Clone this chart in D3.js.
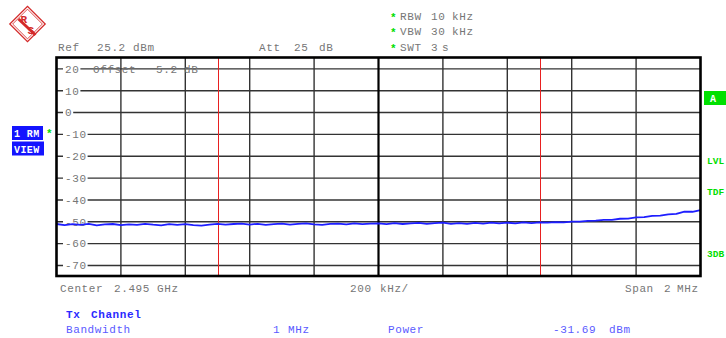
<!DOCTYPE html>
<html><head><meta charset="utf-8">
<script src="https://cdn.jsdelivr.net/npm/d3@7"></script>
<style>
html,body{margin:0;padding:0;background:#fff;}
svg{display:block;}
text{font-family:"Liberation Mono",monospace;white-space:pre;}
</style></head>
<body>
<script>
// ---- data ----
const freqOffsetsKHz = d3.range(-1000, 1001, 25); // 81 points across 2 MHz span
const traceDbm = [
  -51.0,-51.5,-51.1,-51.4,-50.9,-51.6,-51.2,-51.0,-51.5,-51.2,
  -51.4,-50.9,-51.3,-51.6,-51.1,-51.4,-51.1,-51.5,-51.7,-51.3,
  -50.9,-51.3,-51.0,-50.8,-51.3,-50.9,-51.4,-51.1,-50.8,-51.3,
  -50.9,-50.7,-51.2,-51.4,-50.9,-50.8,-51.2,-50.7,-51.1,-50.8,
  -50.7,-51.1,-50.6,-51.0,-50.7,-50.5,-50.9,-50.6,-50.4,
  -50.9,-50.6,-50.9,-50.5,-50.8,-50.4,-50.7,-50.4,-50.7,-50.3,-50.6,-50.3,
  -50.4,-50.1,-50.3,-49.9,-49.9,-49.6,-49.5,-49.1,-49.1,-48.6,
  -48.5,-48.0,-47.9,-47.3,-47.2,-46.6,-46.4,-45.3,-45.4,-44.6
];
const yTickValues = [20,10,0,-10,-20,-30,-40,-50,-60,-70];
const xGridKHz = [-800,-600,-400,-200,0,200,400,600,800];
const channelEdgesKHz = [-500, 500];
const refLevel = 25.2, rangeDb = 100;
const headerLeft = [["Ref",58],["25.2",97],["dBm",133],["Att",259],["25",294],["dB",319]];
const settings = [["RBW","10","kHz"],["VBW","30","kHz"],["SWT","3","s"]];
const offsetText = [["Offset",93],["5.2",156],["dB",184]];
const footer = [["Center",60],["2.495",114],["GHz",157],["200",350],["kHz/",380],["Span",625],["2",664],["MHz",677]];
const tableRow = [["Bandwidth",66],["1",273],["MHz",288],["Power",388],["-31.69",553],["dBm",609]];

// ---- layout ----
const W=726,H=338;
const svg=d3.select("body").append("svg").attr("width",W).attr("height",H);
const x=d3.scaleLinear().domain([-1000,1000]).range([56.5,700.5]);
const y=d3.scaleLinear().domain([refLevel-rangeDb,refLevel]).range([276,57.5]);
const gray="#767676", green="#00dd00", blue="#1414ff";
const txt=(s,xx,yy,fill,size,extra)=>{const t=svg.append("text").attr("x",xx).attr("y",yy).attr("fill",fill)
  .attr("font-size",size||11).attr("letter-spacing",0.6).text(s); if(extra) extra(t); return t;};

// R&S logo
const logo=svg.append("g").attr("transform","translate(27.5,24)");
logo.append("rect").attr("x",-12.5).attr("y",-12.5).attr("width",25).attr("height",25)
  .attr("transform","rotate(45)").attr("fill","none").attr("stroke","#d42a2a").attr("stroke-width",1.3);
logo.append("rect").attr("x",-10.5).attr("y",-10.5).attr("width",21).attr("height",21)
  .attr("transform","rotate(45)").attr("fill","none").attr("stroke","#d42a2a").attr("stroke-width",0.8);
logo.append("line").attr("x1",-9).attr("y1",-5).attr("x2",8).attr("y2",11)
  .attr("stroke","#d42a2a").attr("stroke-width",3);
logo.append("text").attr("x",-7).attr("y",-1).attr("fill","#d42a2a").attr("font-size",11).attr("font-weight","bold")
  .attr("font-family","Liberation Sans").text("R");
logo.append("text").attr("x",0).attr("y",10).attr("fill","#d42a2a").attr("font-size",11).attr("font-weight","bold")
  .attr("font-family","Liberation Sans").text("S");

// header
headerLeft.forEach(([s,xx])=>txt(s,xx,50.5,gray));
settings.forEach((r,i)=>{
  const yy=19.5+i*15.5;
  txt("*",390,yy+1,green,11,t=>t.attr("font-weight","bold"));
  txt(r[0],400,yy,gray); txt(r[1],431,yy,gray); txt(r[2],i===2?442:452,yy,gray);
});

// grid
const g=svg.append("g");
g.selectAll("line.h").data(yTickValues).join("line")
  .attr("x1",x(-1000)).attr("x2",x(1000)).attr("y1",d=>y(d)).attr("y2",d=>y(d))
  .attr("stroke","#333").attr("stroke-width",1.4);
g.selectAll("line.v").data(xGridKHz).join("line")
  .attr("y1",y(refLevel)).attr("y2",y(refLevel-rangeDb)).attr("x1",d=>x(d)).attr("x2",d=>x(d))
  .attr("stroke",d=>d===0?"#000":"#333").attr("stroke-width",d=>d===0?2.2:1.4);
g.selectAll("line.c").data(channelEdgesKHz).join("line")
  .attr("y1",y(refLevel)).attr("y2",y(refLevel-rangeDb)).attr("x1",d=>Math.round(x(d))+0.5).attr("x2",d=>Math.round(x(d))+0.5)
  .attr("stroke","#e82020").attr("stroke-width",1);

// y labels with white backing
yTickValues.forEach(v=>{
  const s=String(v);
  const w=s.length*7.2;
  svg.append("rect").attr("x",63).attr("y",y(v)-5).attr("width",w+3).attr("height",10).attr("fill","#fff");
  txt(s,65,y(v)+3.8,gray);
});

// offset text
offsetText.forEach(([s,xx])=>txt(s,xx,72.5,gray));

// trace
const line=d3.line().x((d,i)=>x(freqOffsetsKHz[i])).y(d=>y(d));
svg.append("path").datum(traceDbm).attr("d",line).attr("fill","none")
  .attr("stroke","#1e1eff").attr("stroke-width",1.8).attr("stroke-linejoin","round");

// frame
svg.append("rect").attr("x",x(-1000)).attr("y",y(refLevel)).attr("width",x(1000)-x(-1000))
  .attr("height",y(refLevel-rangeDb)-y(refLevel)).attr("fill","none").attr("stroke","#000").attr("stroke-width",2.6);

// left side indicators
svg.append("rect").attr("x",12).attr("y",126).attr("width",31).attr("height",14).attr("fill",blue);
txt("1 RM",14,137,"#fff",10,t=>t.attr("font-weight","bold").attr("letter-spacing",0.4));
svg.append("rect").attr("x",12).attr("y",141.5).attr("width",32).attr("height",14).attr("fill",blue);
txt("VIEW",14,152.5,"#fff",10,t=>t.attr("font-weight","bold").attr("letter-spacing",0.4));
txt("*",46,137,green,11,t=>t.attr("font-weight","bold"));

// right side indicators
svg.append("rect").attr("x",704).attr("y",91).attr("width",22).attr("height",14).attr("fill","#00e000");
txt("A",710,102,"#fff",10,t=>t.attr("font-weight","bold"));
[["LVL",163.5],["TDF",194.5],["3DB",256.5]].forEach(([s,yy])=>txt(s,707,yy,green,9.5,t=>t.attr("font-weight","bold").attr("letter-spacing",0)));

// footer
footer.forEach(([s,xx])=>txt(s,xx,292,gray));
txt("Tx",66,318,"#2a2aff",11,t=>t.attr("font-weight","bold"));
txt("Channel",91,318,"#2a2aff",11,t=>t.attr("font-weight","bold"));
tableRow.forEach(([s,xx])=>txt(s,xx,333,"#5a5aff"));
</script>
</body></html>
